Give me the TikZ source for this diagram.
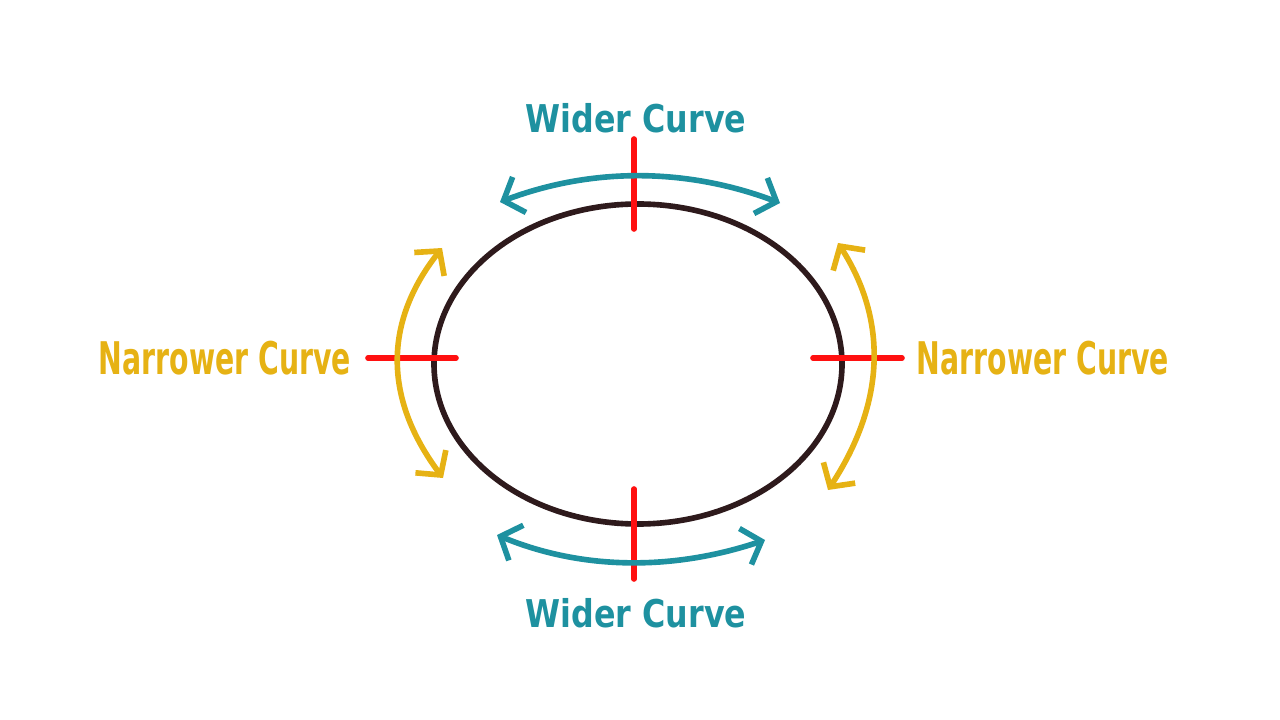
\documentclass[tikz,border=0pt]{standalone}
\usepackage{fontspec}
\usepackage{tikz}
\usetikzlibrary{arrows.meta}

\newfontfamily\labelfont{DejaVu Sans}

\definecolor{widecol}{RGB}{30,145,160}
\definecolor{narrowcol}{RGB}{230,178,20}
\definecolor{ringcol}{RGB}{46,26,28}
\definecolor{crosscol}{RGB}{255,16,16}

\begin{document}
\begin{tikzpicture}[x=0.025cm,y=-0.025cm,
		barb/.tip={Straight Barb[length=12pt,width=27pt]},
		widearc/.style={widecol,line width=4pt,barb-barb},
		narrowarc/.style={narrowcol,line width=4pt,barb-barb},
		crossline/.style={crosscol,line width=4pt,line cap=round},
		widelabel/.style={widecol,inner sep=0pt,anchor=base,font=\labelfont\bfseries\fontsize{27.2}{30}\selectfont},
		narrowlabel/.style={narrowcol,inner sep=0pt,anchor=base,font=\labelfont\bfseries\fontsize{32}{36}\selectfont}]
			\useasboundingbox (0,0) rectangle (1280,720);
			% the ring
			\draw[ringcol,line width=4pt] (638,364) ellipse [x radius=204, y radius=160];
			% red marks
			\coordinate (t1) at (634,139); \coordinate (t2) at (634,229);
			\coordinate (b1) at (634,489); \coordinate (b2) at (634,579);
			\coordinate (l1) at (368,358); \coordinate (l2) at (456,358);
			\coordinate (r1) at (813,358); \coordinate (r2) at (902,358);
			\draw[crossline] (t1) -- (t2);
			\draw[crossline] (b1) -- (b2);
			\draw[crossline] (l1) -- (l2);
			\draw[crossline] (r1) -- (r2);
			% arcs
			\coordinate (wtl) at (500,202); \coordinate (wtr) at (780,203);
			\coordinate (wbl) at (497,535); \coordinate (wbr) at (765,540);
			\coordinate (nlt) at (442,248); \coordinate (nlb) at (443,478);
			\coordinate (nrt) at (838,243); \coordinate (nrb) at (828,490);
			\draw[widearc] (wtl) .. controls (593,167) and (687,168) .. (wtr);
			\draw[widearc] (wbl) .. controls (582,570) and (672,571) .. (wbr);
			\draw[narrowarc] (nlt) .. controls (383,323) and (384,399) .. (nlb);
			\draw[narrowarc] (nrt) .. controls (888,321) and (885,403) .. (nrb);
			% labels
			\node[widelabel] (wtop) at (636,133) {\scalebox{0.83}[1]{Wider Curve}};
			\node[widelabel] (wbot) at (636,627) {\scalebox{0.83}[1]{Wider Curve}};
			\node[narrowlabel] (nleft) at (225,375) {\scalebox{0.63}[1]{Narrower Curve}};
			\node[narrowlabel] (nright) at (1043,375) {\scalebox{0.63}[1]{Narrower Curve}};
		\end{tikzpicture}
\end{document}
